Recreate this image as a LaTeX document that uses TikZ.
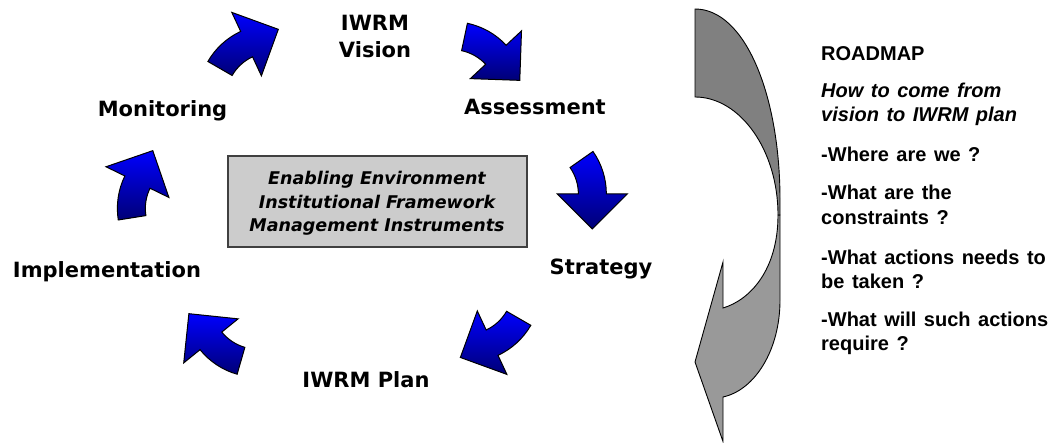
\documentclass[tikz,border=0pt]{standalone}
\usepackage{fontspec}
\setmainfont{DejaVu Sans}
\newfontfamily\arialfont[WordSpace=1.35]{Liberation Sans}
\definecolor{arrowtop}{RGB}{0,0,255}
\definecolor{arrowbot}{RGB}{0,0,118}
\definecolor{boxgray}{RGB}{204,204,204}
\definecolor{roadgrayA}{RGB}{128,128,128}
\definecolor{roadgrayB}{RGB}{153,153,153}
\tikzset{
  bluearrow/.style={draw=black, line width=1pt, line join=miter, top color=arrowtop, bottom color=arrowbot},
  steplabel/.style={font=\fontsize{21}{27}\selectfont\bfseries, anchor=base, inner sep=0pt, align=center},
  boxtext/.style={font=\fontsize{17.5}{23.5}\selectfont\bfseries\itshape, anchor=base, inner sep=0pt},
  roadtext/.style={font=\arialfont\fontsize{20}{24}\selectfont\bfseries, anchor=base west, inner sep=0pt},
  roaditalic/.style={roadtext, font=\arialfont\fontsize{20}{24}\selectfont\bfseries\itshape},
  roadgray/.style={draw=black, line width=0.9pt, line join=miter}
}
\newcommand\cyclearrow[3]{%
  \pgfmathsetmacro\caS{#3+90}%
  \pgfmathsetmacro\caE{#3+55}%
  \pgfmathsetmacro\caT{#3-35}%
  \pgfmathsetmacro\ccx{#1+60*cos(#3-90)}%
  \pgfmathsetmacro\ccy{#2+60*sin(#3-90)}%
  \pgfmathsetmacro\ctx{60*cos(\caE)+35*cos(\caT)}%
  \pgfmathsetmacro\cty{60*sin(\caE)+35*sin(\caT)}%
  \path[bluearrow, shift={(\ccx,\ccy)}] (\caS:74) arc[start angle=\caS, end angle=\caE, radius=74]
    -- (\caE:95) -- (\ctx,\cty) -- (\caE:25) -- (\caE:46)
    arc[start angle=\caE, end angle=\caS, radius=46] -- cycle;
}
\begin{document}
\begin{tikzpicture}[x=1pt,y=1pt]
\useasboundingbox (0,0) rectangle (1059,443);

% cycle labels
\node[steplabel] (vision) at (375,385) {IWRM\\Vision};
\node[steplabel] (assess) at (535,328) {Assessment};
\node[steplabel] (strat) at (601,168) {Strategy};
\node[steplabel] (plan) at (366,55) {IWRM Plan};
\node[steplabel] (impl) at (107,165) {Implementation};
\node[steplabel] (monit) at (162.5,326) {Monitoring};

% central box
\node[draw=black!75, line width=1.3pt, fill=boxgray, minimum width=299pt, minimum height=91pt, inner sep=0pt] (env) at (377.5,241.5) {};
\node[boxtext] (env1) at (377,258) {Enabling Environment};
\node[boxtext] (env2) at (377,234) {Institutional Framework};
\node[boxtext] (env3) at (377,211) {Management Instruments};

% blue cycle arrows
\cyclearrow{220}{374.5}{60}
\cyclearrow{464.5}{406}{-12}
\cyclearrow{581.5}{283.5}{-55}
\cyclearrow{518.7}{124.7}{240}
\cyclearrow{241}{82.2}{164}
\cyclearrow{132.1}{225.2}{99}

% big grey roadmap arrow
\path[roadgray, fill=roadgrayB] (778,228) .. controls (778,173) and (750,143) .. (723,135)
  -- (723,181) -- (695,81) -- (723,1.5) -- (723,46)
  .. controls (755,53) and (780,93) .. (780,143) -- (780,228) -- cycle;
\path[roadgray, fill=roadgrayA] (695,434) .. controls (745,434) and (780,348) .. (780,243)
  -- (780,228) -- (778,228) .. controls (778,293) and (740,346) .. (695,346) -- cycle;

% roadmap text
\node[roadtext] (r0) at (821,382) {ROADMAP};
\node[roaditalic] (r1) at (821,345) {How to come from};
\node[roaditalic] (r2) at (821,321) {vision to IWRM plan};
\node[roadtext] (r3) at (821,281) {-Where are we ?};
\node[roadtext] (r4) at (821,243) {-What are the};
\node[roadtext] (r5) at (821,218) {constraints ?};
\node[roadtext] (r6) at (821,178) {-What actions needs to};
\node[roadtext] (r7) at (821,154) {be taken ?};
\node[roadtext] (r8) at (821,116) {-What will such actions};
\node[roadtext] (r9) at (821,92) {require ?};
\end{tikzpicture}
\end{document}
